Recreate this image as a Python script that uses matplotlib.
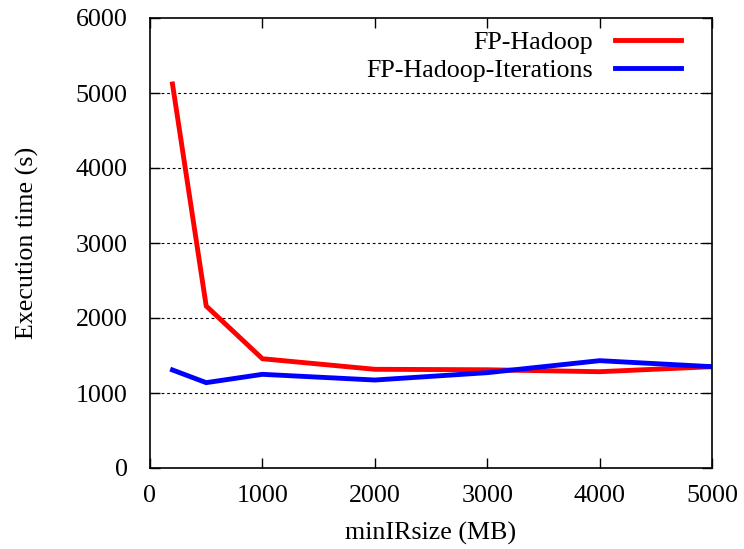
import matplotlib
matplotlib.use("Agg")
import matplotlib.pyplot as plt
from matplotlib.ticker import MultipleLocator

min_ir_size = [200, 500, 1000, 2000, 3000, 4000, 5000]
fp_hadoop = [5120, 2160, 1457, 1316, 1310, 1284, 1351]
fp_hadoop_iter = [1307, 1138, 1249, 1173, 1271, 1431, 1351]

plt.rcParams["font.family"] = ["Liberation Serif", "DejaVu Serif"]
FS = 18.7

fig = plt.figure(figsize=(7.44, 5.49), dpi=100)
ax = fig.add_axes([150 / 744, 1 - 468 / 549, (712 - 150) / 744, (468 - 18) / 549])

ax.plot(min_ir_size, fp_hadoop, color="#ff0000", lw=3.5, label="FP-Hadoop", solid_joinstyle="miter")
ax.plot(min_ir_size, fp_hadoop_iter, color="#0000ff", lw=3.5, label="FP-Hadoop-Iterations", solid_joinstyle="miter")

ax.set_xlim(0, 5000)
ax.set_ylim(0, 6000)
ax.xaxis.set_major_locator(MultipleLocator(1000))
ax.yaxis.set_major_locator(MultipleLocator(1000))

for y in range(1000, 6000, 1000):
    ax.axhline(y, color="black", lw=0.8, ls=(0, (2.5, 2.5)), zorder=0)

ax.tick_params(direction="in", length=7, width=1, top=True, right=True,
               labelsize=FS, colors="black")
ax.tick_params(axis="y", pad=16)
ax.tick_params(axis="x", pad=12)
for s in ax.spines.values():
    s.set_linewidth(1.2)

ax.set_xlabel("minIRsize (MB)", fontsize=FS)
ax.set_ylabel("Execution time (s)", fontsize=FS)
ax.xaxis.set_label_coords(0.5, (468 - 533) / 450)
ax.xaxis.label.set_va("center")
ax.yaxis.set_label_coords((27 - 150) / 562, 0.5)
ax.yaxis.label.set_va("center")

leg = ax.legend(loc="upper right", bbox_to_anchor=(0.978, 1.012), frameon=False,
                fontsize=FS, markerfirst=False, handlelength=2.55,
                handletextpad=0.85, borderpad=0.2, labelspacing=0.18)
for t in leg.get_texts():
    t.set_ha("right")

fig.savefig("out.png", dpi=100)
